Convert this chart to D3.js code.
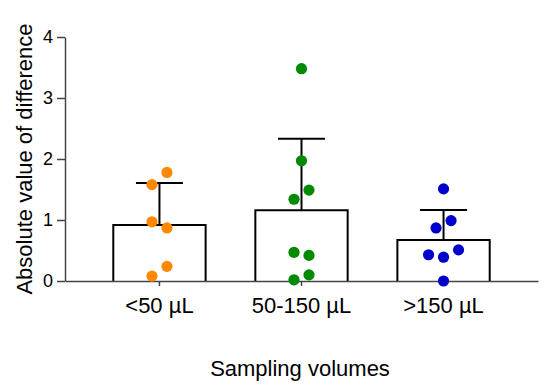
<!DOCTYPE html>
<html>
<head>
<meta charset="utf-8">
<script src="https://cdn.jsdelivr.net/npm/d3@7"></script>
<style>
  body { margin: 0; background: #fff; }
  text { font-family: "Liberation Sans", Arial, sans-serif; fill: #000; }
</style>
</head>
<body>
<script>
// values, one array per group
const categories = ["<50 µL", "50-150 µL", ">150 µL"];
const lowVolume = [0.08, 0.24, 0.87, 0.97, 1.58, 1.78];
const midVolume = [0.02, 0.10, 0.42, 0.47, 1.34, 1.49, 1.97, 3.48];
const highVolume = [0.00, 0.39, 0.43, 0.51, 0.87, 0.99, 1.51];
const dotColors = ["#ff8800", "#008a00", "#0000cc"];
const yTicks = [0, 1, 2, 3, 4];

const groups = [lowVolume, midVolume, highVolume].map((vals, i) => ({
  name: categories[i],
  values: vals,
  mean: d3.mean(vals),
  sd: d3.deviation(vals),
  color: dotColors[i]
}));

const W = 550, H = 392;
const svg = d3.select("body").append("svg")
  .attr("width", W)
  .attr("height", H);

const x = d3.scaleBand()
  .domain(categories)
  .range([65, 538])
  .paddingInner(0.35)
  .paddingOuter(0.34);

const y = d3.scaleLinear()
  .domain([0, 4])
  .range([281, 37]);

const dotR = 5.6;
const dotStep = 15;
const rowGap = 14;

// prism-like scatter: close values share a row and spread sideways
function swarm(values) {
  const sorted = values.slice().sort(d3.ascending);
  const rows = [];
  sorted.forEach(v => {
    const last = rows[rows.length - 1];
    if (last && Math.abs(y(last[0]) - y(v)) < rowGap) last.push(v);
    else rows.push([v]);
  });
  const out = [];
  rows.forEach((row, i) => {
    const n = row.length;
    const slots = d3.range(n).map(k => (k - (n - 1) / 2) * dotStep);
    const leftFirst = i % 2 === 0 || n % 2 === 1;
    slots.sort((a, b) => Math.abs(a) - Math.abs(b) || (leftFirst ? a - b : b - a));
    row.forEach((v, k) => out.push({ v: v, dx: slots[k] }));
  });
  return out;
}

// bars
svg.append("g").selectAll("path")
  .data(groups)
  .join("path")
  .attr("d", d => {
    const x0 = x(d.name), x1 = x0 + x.bandwidth();
    return "M" + x0 + "," + y(0) + "V" + y(d.mean) + "H" + x1 + "V" + y(0);
  })
  .attr("fill", "#fff")
  .attr("stroke", "#000")
  .attr("stroke-width", 2);

// error bars (mean + SD, upper only)
const capW = 47;
const err = svg.append("g")
  .attr("stroke", "#000")
  .attr("stroke-width", 2);
groups.forEach(d => {
  const cx = x(d.name) + x.bandwidth() / 2;
  err.append("line")
    .attr("x1", cx).attr("x2", cx)
    .attr("y1", y(d.mean)).attr("y2", y(d.mean + d.sd));
  err.append("line")
    .attr("x1", cx - capW / 2).attr("x2", cx + capW / 2)
    .attr("y1", y(d.mean + d.sd)).attr("y2", y(d.mean + d.sd));
});

// axes
const yAxis = svg.append("g")
  .attr("transform", "translate(65,0)")
  .call(d3.axisLeft(y).tickValues(yTicks).tickFormat(d3.format("d")).tickSize(8).tickSizeOuter(0).tickPadding(4));
yAxis.select(".domain").attr("stroke", "#444").attr("stroke-width", 1.5);
yAxis.selectAll(".tick line").attr("stroke", "#444").attr("stroke-width", 1.5);
yAxis.selectAll(".tick text")
  .attr("font-size", 18)
  .attr("font-family", "Liberation Sans, Arial, sans-serif")
  .attr("fill", "#000");

const xAxis = svg.append("g")
  .attr("transform", "translate(0," + y(0) + ")")
  .call(d3.axisBottom(x).tickSize(5).tickSizeOuter(0).tickPadding(11));
xAxis.select(".domain").attr("stroke", "#444").attr("stroke-width", 1.5);
xAxis.selectAll(".tick line").attr("stroke", "#444").attr("stroke-width", 1.5);
xAxis.selectAll(".tick text")
  .attr("font-size", 22)
  .attr("font-family", "Liberation Sans, Arial, sans-serif")
  .attr("fill", "#000");

// dots
groups.forEach(d => {
  const cx = x(d.name) + x.bandwidth() / 2;
  svg.append("g").selectAll("circle")
    .data(swarm(d.values))
    .join("circle")
    .attr("cx", p => cx + p.dx)
    .attr("cy", p => y(p.v))
    .attr("r", dotR)
    .attr("fill", d.color);
});

// titles
svg.append("text")
  .attr("transform", "translate(32," + 159 + ") rotate(-90)")
  .attr("text-anchor", "middle")
  .attr("font-size", 22)
  .text("Absolute value of difference");

svg.append("text")
  .attr("x", 300)
  .attr("y", 376)
  .attr("text-anchor", "middle")
  .attr("font-size", 22)
  .text("Sampling volumes");
</script>
</body>
</html>
